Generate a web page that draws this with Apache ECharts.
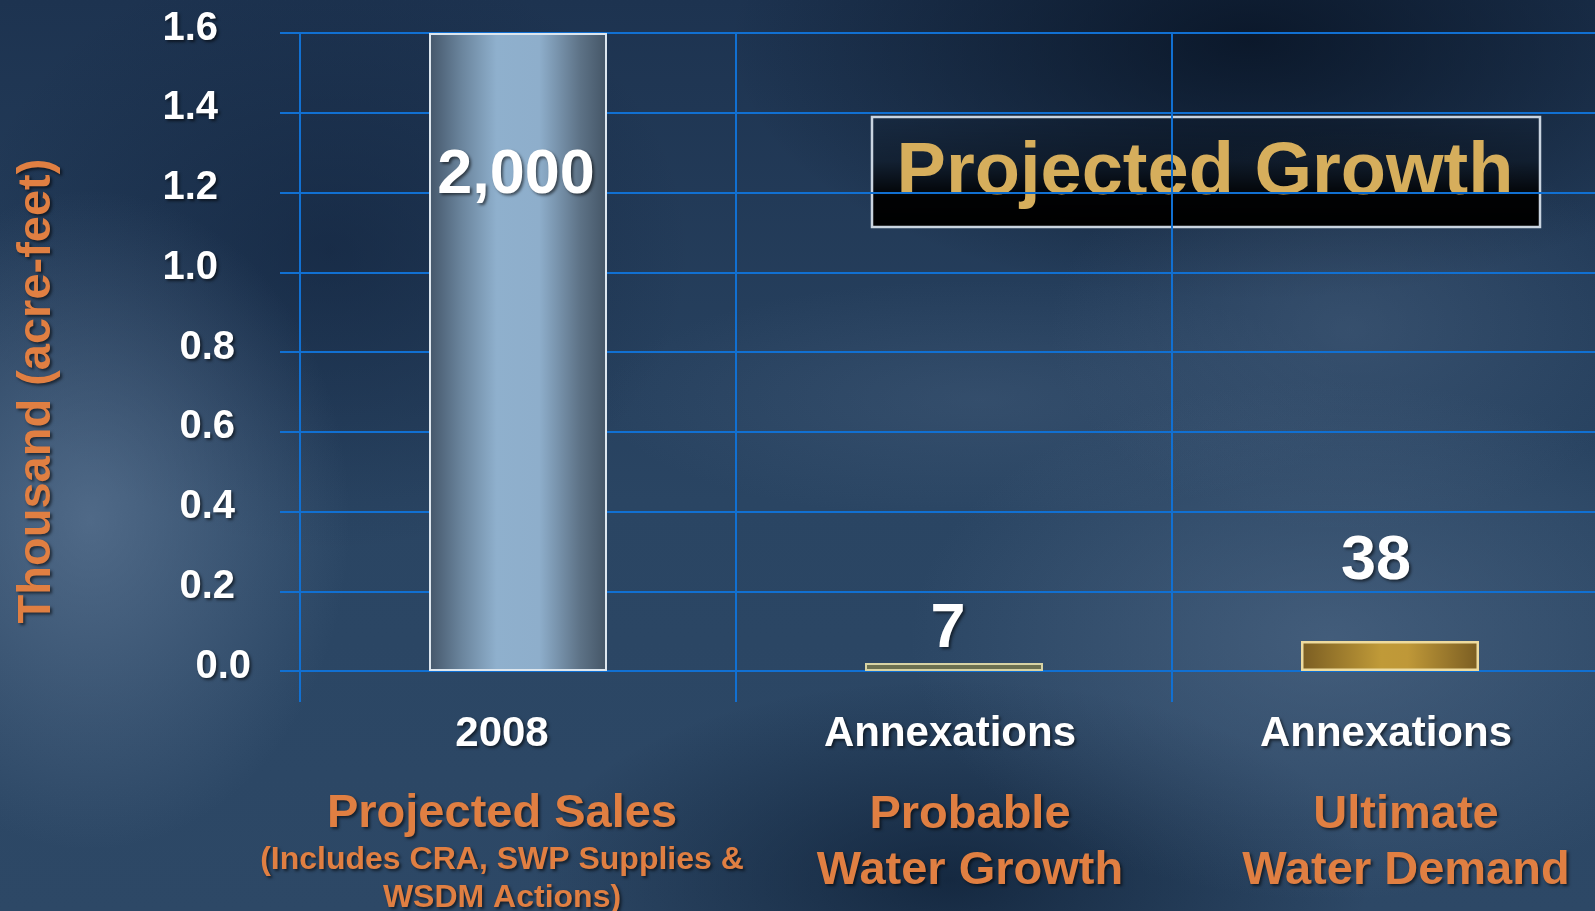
<!DOCTYPE html>
<html>
<head>
<meta charset="utf-8">
<script src="https://cdn.jsdelivr.net/npm/echarts@6/dist/echarts.min.js"></script>
<style>
html,body{margin:0;padding:0;width:1595px;height:911px;overflow:hidden;}
body{
  background:
    radial-gradient(ellipse 260px 330px at 90px 520px, rgba(110,135,165,0.55), rgba(110,135,165,0) 100%),
    radial-gradient(ellipse 420px 260px at 1330px 640px, rgba(95,120,150,0.45), rgba(95,120,150,0) 100%),
    radial-gradient(ellipse 300px 200px at 1350px 330px, rgba(85,110,140,0.35), rgba(85,110,140,0) 100%),
    radial-gradient(ellipse 380px 120px at 980px 400px, rgba(90,115,145,0.25), rgba(90,115,145,0) 100%),
    radial-gradient(ellipse 520px 260px at 1250px 40px, rgba(5,15,30,0.75), rgba(5,15,30,0) 100%),
    radial-gradient(ellipse 420px 200px at 950px 880px, rgba(5,20,40,0.6), rgba(5,20,40,0) 100%),
    radial-gradient(ellipse 360px 300px at 330px 250px, rgba(10,25,50,0.45), rgba(10,25,50,0) 100%),
    linear-gradient(180deg, #1d3350 0%, #2a4563 55%, #2d4866 100%);
}
#chart{width:1595px;height:911px;}
</style>
</head>
<body>
<div id="chart"></div>
<script>
// ---- data ----
var categories = ['2008', 'Annexations', 'Annexations'];
var subtitles = [
  ['Projected Sales', '(Includes CRA, SWP Supplies &', 'WSDM Actions)'],
  ['Probable', 'Water Growth'],
  ['Ultimate', 'Water Demand']
];
var barValues = [1.6, 0.02, 0.075];          // thousand acre-feet, as drawn
var valueLabels = ['2,000', '7', '38'];
var yTicks = [0.0, 0.2, 0.4, 0.6, 0.8, 1.0, 1.2, 1.4, 1.6];
var chartTitle = 'Projected Growth';
var yAxisTitle = 'Thousand (acre-feet)';

// ---- styles ----
var FONT = '"Liberation Sans", Arial, sans-serif';
var GRID_BLUE = '#1170d2';
var ORANGE = '#e07f42';
var lg = echarts.graphic.LinearGradient;
var barStyles = [
  { color: new lg(0,0,1,0,[{offset:0,color:'#44566a'},{offset:0.18,color:'#6a849c'},{offset:0.38,color:'#8fb0cd'},{offset:0.62,color:'#8eaecb'},{offset:0.85,color:'#5d7286'},{offset:1,color:'#445566'}]),
    borderColor:'#dde6ee', borderWidth:2 },
  { color: '#6c7050', borderColor:'#d8d3a4', borderWidth:2 },
  { color: new lg(0,0,1,0,[{offset:0,color:'#7a5d22'},{offset:0.45,color:'#c09a38'},{offset:0.6,color:'#bf9838'},{offset:1,color:'#7a5d22'}]),
    borderColor:'#eedb9e', borderWidth:2.5 }
];
var labelCfg = [
  { position:'insideTop', distance:111, offset:[-2,0] },
  { position:'top', distance:2, offset:[-6,0] },
  { position:'top', distance:48, offset:[-14,0] }
];

var chart = echarts.init(document.getElementById('chart'), null, {renderer:'canvas'});

var shadow = { textShadowColor:'rgba(0,0,0,0.55)', textShadowBlur:3, textShadowOffsetX:2, textShadowOffsetY:2 };
function mix(a,b){ var o={}; for(var k in a) o[k]=a[k]; for(var k2 in b) o[k2]=b[k2]; return o; }

var xRich = {
  w0: mix({color:'#fff', fontSize:42, fontWeight:'bold', fontFamily:FONT, lineHeight:106, padding:[0,32,0,0]}, shadow),
  w:  mix({color:'#fff', fontSize:42, fontWeight:'bold', fontFamily:FONT, lineHeight:106, padding:[0,8,0,0]}, shadow),
  o0: mix({color:ORANGE, fontSize:47, fontWeight:'bold', fontFamily:FONT, lineHeight:54, padding:[0,32,0,0]}, shadow),
  o:  mix({color:ORANGE, fontSize:47, fontWeight:'bold', fontFamily:FONT, lineHeight:56, padding:[0,0,0,32]}, shadow),
  s0: mix({color:ORANGE, fontSize:32, fontWeight:'bold', fontFamily:FONT, lineHeight:38, padding:[0,32,0,0]}, shadow)
};

var yRich = {
  a: mix({color:'#fff', fontSize:40, fontWeight:'bold', fontFamily:FONT, padding:[0,33,9,0]}, shadow),
  b: mix({color:'#fff', fontSize:40, fontWeight:'bold', fontFamily:FONT, padding:[0,16,9,0]}, shadow),
  c: mix({color:'#fff', fontSize:40, fontWeight:'bold', fontFamily:FONT, padding:[0,0,9,0]}, shadow)
};

var seriesData = barValues.map(function(v,i){
  return {
    value: v,
    itemStyle: barStyles[i],
    label: mix({ show:true, formatter: valueLabels[i], color:'#fff', fontSize:63, fontWeight:'bold', fontFamily:FONT }, mix(shadow, labelCfg[i]))
  };
});

chart.setOption({
  backgroundColor: 'transparent',
  animation: false,
  grid: { left: 300, right: -13, top: 33, bottom: 240, containLabel: false, outerBoundsMode: 'none' },
  xAxis: {
    type: 'category',
    data: categories,
    boundaryGap: true,
    axisLine: { show: true, lineStyle: { color: GRID_BLUE, width: 2 } },
    axisTick: { show: true, length: 31, inside: false, lineStyle: { color: GRID_BLUE, width: 2 } },
    splitLine: { show: true, lineStyle: { color: GRID_BLUE, width: 2 } },
    axisLabel: {
      interval: 0, margin: 10,
      formatter: function(val, idx){
        var sub = subtitles[idx];
        if (idx === 0) {
          return '{w0|' + val + '}\n{o0|' + sub[0] + '}\n{s0|' + sub[1] + '}\n{s0|' + sub[2] + '}';
        }
        return '{w|' + val + '}\n{o|' + sub[0] + '}\n{o|' + sub[1] + '}';
      },
      rich: xRich
    }
  },
  yAxis: {
    type: 'value',
    min: 0, max: 1.6, interval: 0.2,
    name: yAxisTitle,
    nameLocation: 'middle',
    nameGap: 239,
    nameRotate: 90,
    nameTextStyle: mix({ color: ORANGE, fontSize: 47, fontWeight: 'bold', fontFamily: FONT, padding:[0,78,0,0] }, shadow),
    axisLine: { show: true, lineStyle: { color: GRID_BLUE, width: 2 } },
    axisTick: { show: true, length: 20, lineStyle: { color: GRID_BLUE, width: 2 } },
    splitLine: { show: true, lineStyle: { color: GRID_BLUE, width: 2 } },
    axisLabel: {
      margin: 49,
      formatter: function(v){
        var t = v.toFixed(1);
        if (v >= 0.99) return '{a|' + t + '}';
        if (v > 0.01) return '{b|' + t + '}';
        return '{c|' + t + '}';
      },
      rich: yRich
    }
  },
  series: [{
    type: 'bar',
    data: seriesData,
    barWidth: 178,
    clip: false,
    z: 3
  }],
  graphic: [{
    type: 'group',
    z: 100,
    children: [{
      type: 'rect',
      shape: { x: 872, y: 117, width: 668, height: 110 },
      style: {
        fill: new lg(0,0,0,1,[{offset:0,color:'rgba(0,0,0,0.12)'},{offset:0.4,color:'rgba(0,0,0,0.35)'},{offset:0.72,color:'rgba(0,0,0,0.95)'},{offset:1,color:'#000'}]),
        stroke: '#c9d4e0', lineWidth: 2.5
      }
    }, {
      type: 'text',
      x: 1205, y: 174,
      style: { text: chartTitle, fill: '#d6ae5c', font: 'bold 74px ' + FONT, align: 'center', verticalAlign: 'middle' }
    }]
  }]
});
</script>
</body>
</html>
